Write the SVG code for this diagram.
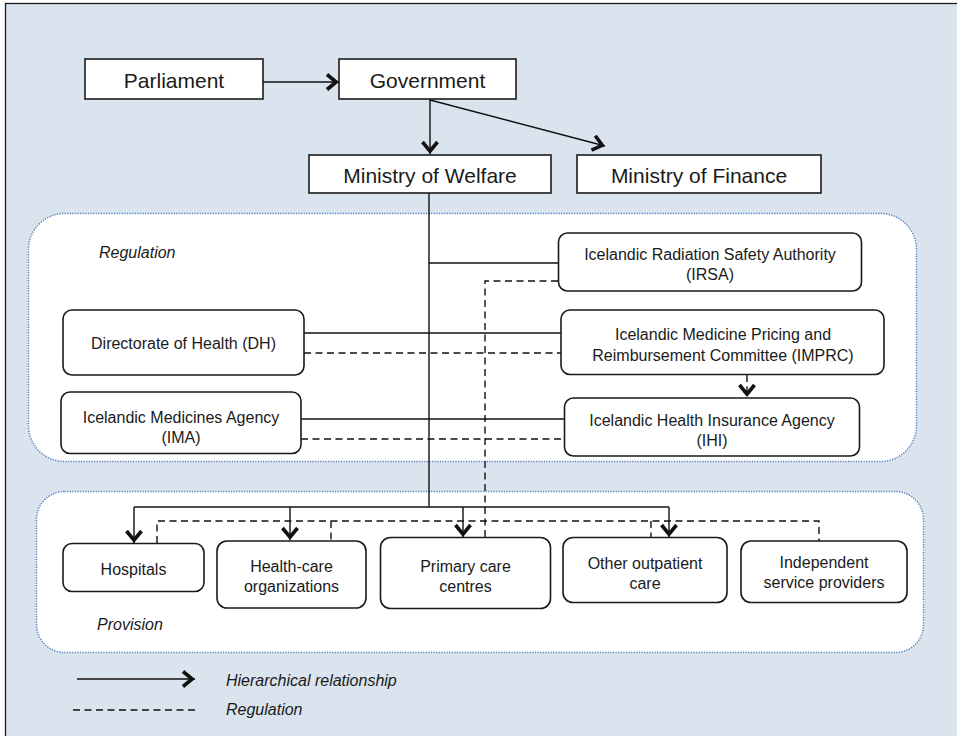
<svg xmlns="http://www.w3.org/2000/svg" width="957" height="736" viewBox="0 0 957 736">
<defs>
<style>
.box{fill:#fff;stroke:#1a1a1a;stroke-width:1.6}
.region{fill:#fff;stroke:#4f7fb8;stroke-width:1.5;stroke-dasharray:1.2 1.4}
.t21{font-family:"Liberation Sans",Arial,sans-serif;font-size:21px;fill:#1a1a1a;text-anchor:middle}
.t16{font-family:"Liberation Sans",Arial,sans-serif;font-size:16px;fill:#1a1a1a;text-anchor:middle}
.it{font-family:"Liberation Sans",Arial,sans-serif;font-size:16px;font-style:italic;fill:#1a1a1a}
.solid{fill:none;stroke:#111;stroke-width:1.4}
.dash{fill:none;stroke:#111;stroke-width:1.4;stroke-dasharray:7 4.5}
.arr{marker-end:url(#ah)}
</style>
<marker id="ah" viewBox="-16 -10 18 20" refX="0" refY="0" markerWidth="18" markerHeight="20" markerUnits="userSpaceOnUse" orient="auto">
<path d="M-12,-7.5 L-2.8,0 L-12,7.5" fill="none" stroke="#111" stroke-width="3.6"/>
</marker>
</defs>
<rect x="5.5" y="3.5" width="960" height="740" fill="#dae4ee" stroke="#1a1a1a" stroke-width="1.3"/>
<g id="regulation-area">
<rect class="region" x="28.5" y="213.5" width="888" height="248" rx="36" ry="36"/>
<text class="it" x="99" y="258">Regulation</text>
</g>
<g id="provision-area">
<rect class="region" x="36.5" y="491.5" width="887" height="161" rx="28" ry="28"/>
<text class="it" x="97" y="630">Provision</text>
</g>
<g id="connectors">
<path class="solid arr" d="M263,82 H339"/>
<path class="solid arr" d="M430,99 V154"/>
<path class="solid arr" d="M430,100 L605,146"/>
<path class="solid" d="M429,193 V507"/>
<path class="solid" d="M429,263 H558"/>
<path class="solid" d="M304,333 H561"/>
<path class="dash" d="M304,353 H561"/>
<path class="solid" d="M301,419 H564"/>
<path class="dash" d="M301,439 H564"/>
<path class="dash" d="M558,281 H485 V537"/>
<path class="dash arr" d="M747,375 V397"/>
<path class="solid" d="M134,507 H669"/>
<path class="solid arr" d="M134,507 V543"/>
<path class="solid arr" d="M290,507 V540"/>
<path class="solid arr" d="M463,507 V537"/>
<path class="solid arr" d="M669,507 V537"/>
<path class="dash" d="M157,543 V521 H819 V541"/>
<path class="dash" d="M331,521 V540"/>
<path class="dash" d="M651,521 V537"/>
</g>
<g id="parliament"><rect class="box" x="85" y="59" width="178" height="40"/><text class="t21" x="174" y="88">Parliament</text></g>
<g id="government"><rect class="box" x="339" y="59" width="177" height="40"/><text class="t21" x="427.5" y="88">Government</text></g>
<g id="ministry-welfare"><rect class="box" x="309" y="155" width="242" height="38"/><text class="t21" x="430" y="183">Ministry of Welfare</text></g>
<g id="ministry-finance"><rect class="box" x="577" y="155" width="244" height="38"/><text class="t21" x="699" y="183">Ministry of Finance</text></g>
<g id="irsa"><rect class="box" x="558.5" y="233" width="303" height="58" rx="9"/><text class="t16" x="710" y="260">Icelandic Radiation Safety Authority</text><text class="t16" x="710" y="280">(IRSA)</text></g>
<g id="dh"><rect class="box" x="63" y="310" width="241" height="65" rx="9"/><text class="t16" x="183.5" y="349">Directorate of Health (DH)</text></g>
<g id="imprc"><rect class="box" x="561" y="310" width="323" height="64.5" rx="9"/><text class="t16" x="723" y="340">Icelandic Medicine Pricing and</text><text class="t16" x="723" y="361">Reimbursement Committee (IMPRC)</text></g>
<g id="ima"><rect class="box" x="61" y="392" width="240" height="61.5" rx="9"/><text class="t16" x="181" y="422.5">Icelandic Medicines Agency</text><text class="t16" x="181" y="443">(IMA)</text></g>
<g id="ihi"><rect class="box" x="564.5" y="398" width="295" height="58" rx="9"/><text class="t16" x="712" y="425.5">Icelandic Health Insurance Agency</text><text class="t16" x="712" y="446">(IHI)</text></g>
<g id="hospitals"><rect class="box" x="63" y="543.5" width="141" height="48" rx="9"/><text class="t16" x="133.5" y="575">Hospitals</text></g>
<g id="health-care"><rect class="box" x="217" y="541" width="149" height="67" rx="10"/><text class="t16" x="291.5" y="571.5">Health-care</text><text class="t16" x="291.5" y="591.5">organizations</text></g>
<g id="primary-care"><rect class="box" x="380.5" y="537.5" width="170" height="71" rx="10"/><text class="t16" x="465.5" y="571.5">Primary care</text><text class="t16" x="465.5" y="591.5">centres</text></g>
<g id="other-outpatient"><rect class="box" x="563" y="537.5" width="164" height="65" rx="10"/><text class="t16" x="645" y="568.5">Other outpatient</text><text class="t16" x="645" y="588.5">care</text></g>
<g id="independent"><rect class="box" x="741" y="541" width="166" height="61.5" rx="10"/><text class="t16" x="824" y="567.5">Independent</text><text class="t16" x="824" y="587.5">service providers</text></g>
<g id="legend">
<path class="solid arr" d="M77,679 H195"/>
<path class="dash" d="M73,710 H197"/>
<text class="it" x="226" y="685.5">Hierarchical relationship</text>
<text class="it" x="226" y="715">Regulation</text>
</g>
</svg>
